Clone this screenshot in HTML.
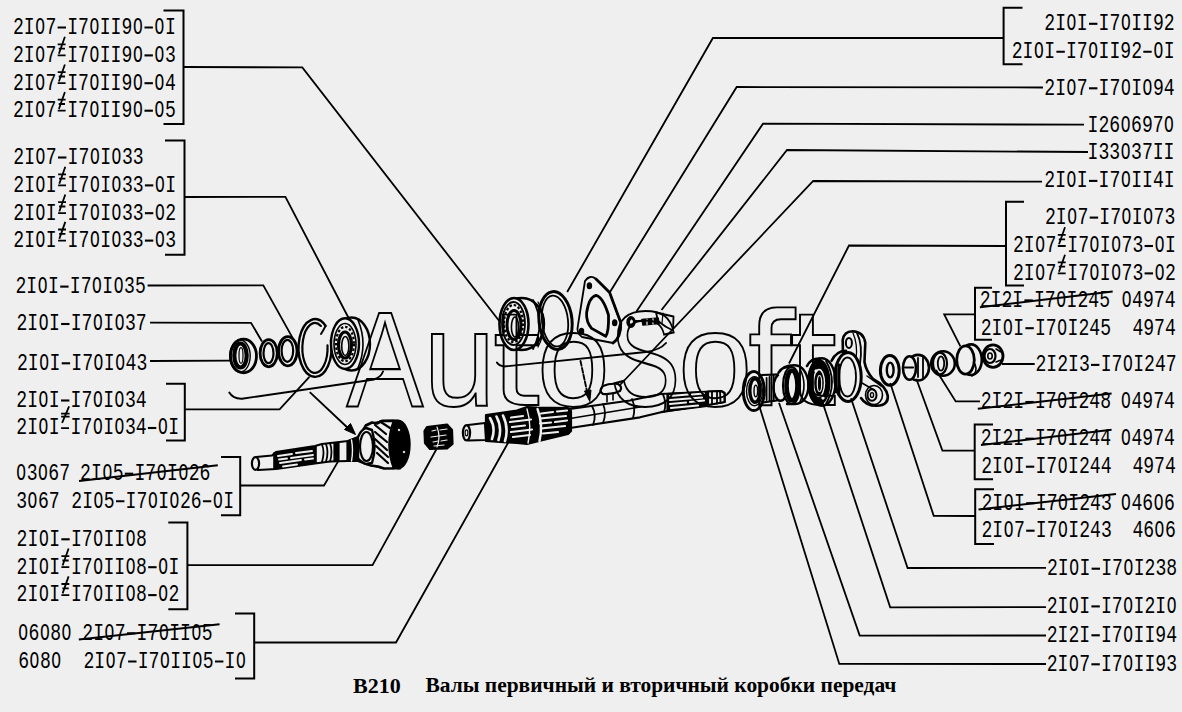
<!DOCTYPE html>
<html><head><meta charset="utf-8"><style>
html,body{margin:0;padding:0;background:#efefef;}
svg{display:block}
.t{white-space:pre;font-family:"Liberation Mono",monospace;font-size:18.10px;fill:#000;}
.l{fill:none;stroke:#000;stroke-width:1.8;}
.bk{fill:none;stroke:#000;stroke-width:2;}
.st{fill:none;stroke:#000;stroke-width:2;}
.m{fill:none;stroke:#000;stroke-width:1.8;}
.hy{fill:none;stroke:#000;stroke-width:2.1;}
.wm{font-family:"Liberation Sans",sans-serif;font-size:128px;fill:none;stroke:#000;stroke-width:1.9;vector-effect:non-scaling-stroke;}
.wmp{fill:none;stroke:#000;stroke-width:1.9;}
.ti{font-family:"Liberation Serif",serif;font-weight:bold;fill:#000;}
.p{fill:none;stroke:#000;stroke-width:2;}
.pt{fill:none;stroke:#000;stroke-width:1.3;}
.pf{fill:#000;stroke:none;}
</style></head><body>
<svg width="1182" height="712" viewBox="0 0 1182 712">
<ellipse cx="243.5" cy="356" rx="13" ry="16.8" fill="#efefef" stroke="#000" stroke-width="2.8" />
<ellipse cx="240" cy="356" rx="10.2" ry="16" fill="none" stroke="#000" stroke-width="1.4" />
<ellipse cx="240.5" cy="355.5" rx="6.2" ry="12" fill="none" stroke="#000" stroke-width="4.2" />
<ellipse cx="241" cy="355.5" rx="2.0" ry="7.8" fill="none" stroke="#000" stroke-width="1.2" />
<ellipse cx="268.7" cy="353.2" rx="8.6" ry="13.6" fill="none" stroke="#000" stroke-width="2.8" />
<ellipse cx="268.5" cy="353.2" rx="5.0" ry="10.0" fill="none" stroke="#000" stroke-width="2.2" />
<ellipse cx="287.8" cy="351.2" rx="9.3" ry="14.6" fill="none" stroke="#000" stroke-width="2.8" />
<ellipse cx="287.4" cy="350.8" rx="5.8" ry="11.0" fill="none" stroke="#000" stroke-width="2.2" />
<path d="M325.6 325.9 A16.5 28.8 0 1 0 330.9 340.1" fill="none" stroke="#000" stroke-width="2.4" stroke-linejoin="round" stroke-linecap="round" />
<path d="M320.9 325.9 A12.6 25.0 0 1 0 327.5 345.4" fill="none" stroke="#000" stroke-width="2.2" stroke-linejoin="round" stroke-linecap="round" />
<path d="M325.6 325.9 Q323 331 321 334" fill="none" stroke="#000" stroke-width="2" stroke-linejoin="round" stroke-linecap="round" />
<ellipse cx="351.5" cy="344" rx="18.5" ry="26.5" fill="#efefef" stroke="#000" stroke-width="2.4" />
<path d="M358 320 Q368 344 358 368" fill="none" stroke="#000" stroke-width="1.6" stroke-linejoin="round" stroke-linecap="round" />
<ellipse cx="345" cy="343.6" rx="14" ry="25.3" fill="#efefef" stroke="#000" stroke-width="2.4" />
<ellipse cx="345" cy="344" rx="11" ry="20.5" fill="none" stroke="#000" stroke-width="1.6" />
<ellipse cx="345" cy="344" rx="9" ry="17.2" fill="none" stroke="#000" stroke-width="2.2" stroke-dasharray="2.5 2"/>
<ellipse cx="345" cy="345" rx="6.5" ry="13" fill="none" stroke="#000" stroke-width="3.2" />
<ellipse cx="345.3" cy="346" rx="3.6" ry="9.5" fill="none" stroke="#000" stroke-width="1.6" />
<path d="M256.0 457.0 L272.0 455.5 L276.0 452.0 L315.0 446.0 L322.0 444.0 L348.0 441.0 L358.0 437.0 L366.0 425.0 L383.0 421.0 L397.0 420.5 L400.0 468.5 L383.0 468.0 L366.0 464.0 L358.0 461.0 L348.0 461.0 L330.0 461.5 L315.0 463.5 L276.0 469.0 L258.0 470.0 Z" fill="#efefef" stroke="#000" stroke-width="2.2" stroke-linejoin="round" />
<ellipse cx="255.5" cy="463.5" rx="3.6" ry="6.3" fill="#efefef" stroke="#000" stroke-width="2.2" />
<path d="M274.0 453.0 L316.0 446.5 L316.0 463.0 L274.0 469.0 Z" fill="#000" stroke="#000" stroke-width="1.6" stroke-linejoin="round" />
<path d="M278 456 L292 454 M296 453 L312 451 M279 459.5 L287 458.5 M291 458 L313 455 M280 463 L301 460 M305 459.5 L313 458.5 M283 466.5 L297 464.5" fill="none" stroke="#efefef" stroke-width="1.9" stroke-linejoin="round" stroke-linecap="round" />
<path d="M322 444.5 Q325 452 322 462 M326 444 Q329 452 326 461.5 M330 443 Q333 452 330 461.5" fill="none" stroke="#000" stroke-width="1.8" stroke-linejoin="round" stroke-linecap="round" />
<path d="M334.0 443.0 L339.0 442.5 L339.0 461.0 L334.0 461.5 Z" fill="#000" stroke="#000" stroke-width="1.2" stroke-linejoin="round" />
<path d="M347.0 441.0 L358.0 437.5 L358.0 461.0 L347.0 461.0 Z" fill="#000" stroke="#000" stroke-width="1.2" stroke-linejoin="round" />
<path d="M351.5 440 Q353.5 450 351.5 461" fill="none" stroke="#efefef" stroke-width="1.4" stroke-linejoin="round" stroke-linecap="round" />
<ellipse cx="398" cy="444.5" rx="11.5" ry="23.8" fill="#000" stroke="#000" stroke-width="2.4" />
<path d="M392 428 Q385 444 392 462" fill="none" stroke="#efefef" stroke-width="1.4" stroke-linejoin="round" stroke-linecap="round" />
<ellipse cx="399" cy="430" rx="0.8" ry="0.8" fill="#efefef" stroke="#efefef" stroke-width="1" />
<ellipse cx="404" cy="452" rx="0.8" ry="0.8" fill="#efefef" stroke="#efefef" stroke-width="1" />
<path d="M366 425.5 L372 422.5 L377 423.5 L382 420.8 L394 420.9 Q385 444 394 468.3 L384 468.5 L378 466.5 L371 465.5 L364 463" fill="#efefef" stroke="#000" stroke-width="2.6" stroke-linejoin="round" stroke-linecap="round" />
<path d="M375 425 L386 434 M375 432 L387 442 M375 439 L387 450 M376 446 L388 457 M377 453 L388 463 M380 421.5 L390 428" fill="none" stroke="#000" stroke-width="2.2" stroke-linejoin="round" stroke-linecap="round" />
<path d="M358 437 Q361 430 366 428 L372 430 Q377 447 372 463 L366 464 Q359 461 358 458 Z" fill="#efefef" stroke="#000" stroke-width="2.4" stroke-linejoin="round" stroke-linecap="round" />
<ellipse cx="366.5" cy="446.5" rx="6.5" ry="14.5" fill="#efefef" stroke="#000" stroke-width="2.2" />
<path d="M355.5 434.5 L344.5 429.5 L350.5 423.5 Z" fill="#000" stroke="#000" stroke-width="1" stroke-linejoin="round" />
<path d="M310.3 392.6 L350 430" fill="none" stroke="#000" stroke-width="1.9" stroke-linejoin="round" stroke-linecap="round" />
<path d="M427.0 427.0 L447.0 424.5 L452.0 430.0 L452.5 444.0 L447.0 448.5 L430.0 449.0 L425.0 443.0 L424.5 431.0 Z" fill="#000" stroke="#000" stroke-width="2.2" stroke-linejoin="round" />
<path d="M432 431 L436 430 M440 430 L447 429 M431 437 L446 435 M433 442 L438 441 M441 441 L447 440 M434 446 L444 445" fill="none" stroke="#efefef" stroke-width="1.2" stroke-linejoin="round" stroke-linecap="round" />
<path d="M437 427 Q441 437 437 447" fill="none" stroke="#efefef" stroke-width="1.2" stroke-linejoin="round" stroke-linecap="round" />
<path d="M570.0 409.0 L630.0 400.5 L661.0 394.0 L721.0 391.0 L724.5 393.0 L724.6 402.0 L661.0 412.2 L640.0 417.3 L570.0 428.0 Z" fill="#efefef" stroke="#000" stroke-width="2.2" stroke-linejoin="round" />
<path d="M592 406 Q597 415 593 425" fill="none" stroke="#000" stroke-width="1.8" stroke-linejoin="round" stroke-linecap="round" />
<path d="M603 404 Q607 413 603 423" fill="none" stroke="#000" stroke-width="1.8" stroke-linejoin="round" stroke-linecap="round" />
<path d="M632 399 Q636 408 633 418" fill="none" stroke="#000" stroke-width="1.8" stroke-linejoin="round" stroke-linecap="round" />
<path d="M663 394.5 Q667 403 664 412" fill="none" stroke="#000" stroke-width="1.8" stroke-linejoin="round" stroke-linecap="round" />
<path d="M570 418.5 L640 407" fill="none" stroke="#000" stroke-width="1.5" stroke-linejoin="round" stroke-linecap="round" />
<path d="M667.0 393.5 L707.0 391.5 L707.0 406.5 L667.0 411.5 Z" fill="#000" stroke="#000" stroke-width="1.2" stroke-linejoin="round" />
<path d="M670 396 L688 394.5 M692 394.5 L704 393.5 M670 400 L702 397.5 M670 404 L686 402.5 M690 402 L704 400.5 M671 408 L698 405.5" fill="none" stroke="#efefef" stroke-width="2.2" stroke-linejoin="round" stroke-linecap="round" />
<path d="M708.0 391.5 L721.0 391.0 L724.5 393.0 L724.6 402.0 L708.0 405.0 Z" fill="#efefef" stroke="#000" stroke-width="2.2" stroke-linejoin="round" />
<path d="M712 392 L712 404 M717 391.5 L717 403.5 M720 391.5 L720.5 402.5" fill="none" stroke="#000" stroke-width="1.8" stroke-linejoin="round" stroke-linecap="round" />
<path d="M486.0 415.0 L517.0 410.5 L527.0 407.0 L537.0 407.5 L568.0 408.0 L571.0 411.0 L571.0 431.0 L568.0 434.0 L537.0 441.5 L527.0 444.0 L517.0 443.0 L486.0 441.0 Z" fill="#000" stroke="#000" stroke-width="2.2" stroke-linejoin="round" />
<path d="M490 418 Q496 428 492 439 M496.5 416.5 Q502.5 428 498.5 440 M503 415.5 Q509 428 505 441" fill="none" stroke="#efefef" stroke-width="2.6" stroke-linejoin="round" stroke-linecap="round" />
<path d="M511 417.5 L523 416 M510 422 L531 419.5 M512 427 L525 425.5 M511 432 L532 429.5 M513 437 L530 435" fill="none" stroke="#efefef" stroke-width="2.2" stroke-linejoin="round" stroke-linecap="round" />
<path d="M541 413.5 L553 412 M557 411.5 L567 410.5 M540 418.5 L566 416 M540 423.5 L551 422.5 M555 422 L567 420.5 M541 428.5 L565 426 M543 433.5 L558 432" fill="none" stroke="#efefef" stroke-width="2.2" stroke-linejoin="round" stroke-linecap="round" />
<path d="M537.5 409 Q543.5 425 539.5 441" fill="none" stroke="#efefef" stroke-width="2.4" stroke-linejoin="round" stroke-linecap="round" />
<path d="M527 409 Q532 426 528 443" fill="none" stroke="#efefef" stroke-width="1.4" stroke-linejoin="round" stroke-linecap="round" />
<path d="M468.0 425.0 L485.0 423.0 L486.0 440.0 L468.0 440.5 Z" fill="#efefef" stroke="#000" stroke-width="2.2" stroke-linejoin="round" />
<ellipse cx="466.5" cy="432.8" rx="3.6" ry="7.6" fill="#efefef" stroke="#000" stroke-width="2.2" />
<ellipse cx="466.5" cy="432.8" rx="1.4" ry="3" fill="none" stroke="#000" stroke-width="1.2" />
<ellipse cx="522" cy="324" rx="22" ry="26" fill="#efefef" stroke="#000" stroke-width="2.4" />
<path d="M533 300 Q546 324 533 349" fill="none" stroke="#000" stroke-width="1.8" stroke-linejoin="round" stroke-linecap="round" />
<path d="M538 302 Q550 324 538 347" fill="none" stroke="#000" stroke-width="1.2" stroke-linejoin="round" stroke-linecap="round" />
<ellipse cx="514" cy="324" rx="14.5" ry="26" fill="#efefef" stroke="#000" stroke-width="2.6" />
<ellipse cx="513.5" cy="323.5" rx="11.5" ry="21.5" fill="none" stroke="#000" stroke-width="1.8" />
<ellipse cx="513.5" cy="323.5" rx="9.5" ry="18.5" fill="none" stroke="#000" stroke-width="2.2" stroke-dasharray="2.5 2"/>
<ellipse cx="514" cy="325" rx="7" ry="14.5" fill="none" stroke="#000" stroke-width="3" />
<ellipse cx="515" cy="327" rx="3.6" ry="10" fill="none" stroke="#000" stroke-width="1.6" />
<ellipse cx="555.5" cy="320.5" rx="16.5" ry="29" fill="none" stroke="#000" stroke-width="3" transform="rotate(-6 555.5 320.5)" />
<ellipse cx="555" cy="321" rx="13" ry="25.5" fill="none" stroke="#000" stroke-width="1.8" transform="rotate(-6 555 321)" />
<path d="M585 281 Q590 274 596 279 L609.6 292.5 L620.8 322.8 Q621 338 613 343 L582 337 Q576 333 578 325 Z" fill="none" stroke="#000" stroke-width="1.8" stroke-linejoin="round" stroke-linecap="round" />
<path d="M596 279 L609.6 292.5 L620.8 322.8 Q621 338 613 343" fill="none" stroke="#000" stroke-width="2.8" stroke-linejoin="round" stroke-linecap="round" />
<path d="M596 295.3 Q603 297 608.5 315 Q609 332 605.7 336.3 L591.6 328.4 Q586 322 586.6 312.7 Q589 297 596 295.3 Z" fill="none" stroke="#000" stroke-width="2.8" stroke-linejoin="round" stroke-linecap="round" />
<ellipse cx="589.4" cy="285.7" rx="2" ry="2.8" fill="#000" stroke="#000" stroke-width="1.5" />
<ellipse cx="614.7" cy="322.8" rx="2" ry="2.8" fill="#000" stroke="#000" stroke-width="1.5" />
<ellipse cx="581.5" cy="331.2" rx="2" ry="2.8" fill="#000" stroke="#000" stroke-width="1.5" />
<ellipse cx="631" cy="322" rx="3.6" ry="4.8" fill="#000" stroke="#000" stroke-width="2.2" />
<ellipse cx="631.5" cy="322" rx="1" ry="2" fill="#efefef" stroke="#efefef" stroke-width="1" />
<path d="M642.0 319.5 L658.0 318.0 L659.0 323.5 L643.0 325.0 Z" fill="#000" stroke="#000" stroke-width="1.6" stroke-linejoin="round" />
<path d="M647 319 L647 324.5 M653 318.5 L653 324" fill="none" stroke="#efefef" stroke-width="1.2" stroke-linejoin="round" stroke-linecap="round" />
<path d="M634.5 321 L642 321" fill="none" stroke="#000" stroke-width="1.8" stroke-linejoin="round" stroke-linecap="round" />
<path d="M656 312.5 L673.5 316.5 L673 330.5 Q665 327 658 321 Z" fill="none" stroke="#000" stroke-width="1.8" stroke-linejoin="round" stroke-linecap="round" />
<path d="M663 313 L662 323" fill="none" stroke="#000" stroke-width="1.2" stroke-linejoin="round" stroke-linecap="round" />
<path d="M603 386 Q610 383 618 384 Q623 387 620 391 Q612 395 603 394 Q598 391 603 386 Z" fill="none" stroke="#000" stroke-width="2.2" stroke-linejoin="round" stroke-linecap="round" />
<path d="M607 394 L607 402 M613 393 L613 400" fill="none" stroke="#000" stroke-width="1.6" stroke-linejoin="round" stroke-linecap="round" />
<path d="M229.3 392.6 Q233 399 242 398.7 L374 379.5 Q381 377 383 371.5" fill="none" stroke="#000" stroke-width="1.9" stroke-linejoin="round" stroke-linecap="round" />
<path d="M496.9 362.6 Q499 366 504 366.5 L646 352 Q660 350 666 343" fill="none" stroke="#000" stroke-width="1.9" stroke-linejoin="round" stroke-linecap="round" />
<path d="M580.5 361 L588 396" fill="none" stroke="#000" stroke-width="1.9" stroke-linejoin="round" stroke-linecap="round" stroke-dasharray="5 2"/>
<path d="M589.8 401.5 L584.5 391.0 L591.0 390.0 Z" fill="#000" stroke="#000" stroke-width="1" stroke-linejoin="round" />
<ellipse cx="753.8" cy="391" rx="10.5" ry="19.6" fill="#efefef" stroke="#000" stroke-width="3" />
<ellipse cx="754.5" cy="391.2" rx="8" ry="14.5" fill="none" stroke="#000" stroke-width="1.4" />
<ellipse cx="755" cy="390.5" rx="5.2" ry="11.8" fill="none" stroke="#000" stroke-width="3.4" />
<ellipse cx="755.8" cy="391" rx="1.8" ry="5.8" fill="none" stroke="#000" stroke-width="1.4" />
<path d="M762 375 L780 374.4 M763 402.5 L780 400" fill="none" stroke="#000" stroke-width="2.2" stroke-linejoin="round" stroke-linecap="round" />
<ellipse cx="780.5" cy="387.5" rx="7" ry="13.2" fill="#efefef" stroke="#000" stroke-width="2.4" />
<path d="M766.6 378 L766.6 400 M769.5 377 L769.5 401 M773.7 376 L773.7 401" fill="none" stroke="#000" stroke-width="1.8" stroke-linejoin="round" stroke-linecap="round" />
<path d="M778.4 372.8 Q783 365 795 365.2 Q806 366 808.7 383.7 Q808 403 795 404 L787 404" fill="#efefef" stroke="#000" stroke-width="2.4" stroke-linejoin="round" stroke-linecap="round" />
<ellipse cx="791.5" cy="385.5" rx="8.5" ry="18.5" fill="#efefef" stroke="#000" stroke-width="2.2" />
<ellipse cx="792" cy="385.5" rx="5.5" ry="15" fill="none" stroke="#000" stroke-width="4.6" />
<path d="M800 369 Q808 385 800 402" fill="none" stroke="#000" stroke-width="1.6" stroke-linejoin="round" stroke-linecap="round" />
<path d="M784 368 L790 366.5" fill="none" stroke="#000" stroke-width="2" stroke-linejoin="round" stroke-linecap="round" />
<ellipse cx="822" cy="382" rx="13.5" ry="23.8" fill="#efefef" stroke="#000" stroke-width="2.4" />
<path d="M826 361 Q838 382 826 404" fill="none" stroke="#000" stroke-width="1.8" stroke-linejoin="round" stroke-linecap="round" />
<ellipse cx="818.8" cy="382.2" rx="10.5" ry="22" fill="#000" stroke="#000" stroke-width="2.4" />
<ellipse cx="819" cy="383" rx="5.5" ry="13.5" fill="none" stroke="#efefef" stroke-width="1.4" />
<ellipse cx="819.5" cy="383.5" rx="2.2" ry="8" fill="none" stroke="#efefef" stroke-width="1.2" />
<path d="M807 366 Q811 358 820 358.5" fill="none" stroke="#000" stroke-width="2.6" stroke-linejoin="round" stroke-linecap="round" />
<ellipse cx="816" cy="371" rx="1.2" ry="1.2" fill="#efefef" stroke="#efefef" stroke-width="1" />
<ellipse cx="823" cy="398" rx="1.2" ry="1.2" fill="#efefef" stroke="#efefef" stroke-width="1" />
<path d="M842.9 352 L842.7 340 Q844 331.5 852.5 331.3 Q863.5 331.5 865.3 343 L864.5 362 Q866 371 873 379 Q886 386 887.8 396 Q888.5 405 877 405.8 Q866 406 861 398" fill="#efefef" stroke="#000" stroke-width="2.6" stroke-linejoin="round" stroke-linecap="round" />
<path d="M857 333 Q863 345 860 364" fill="none" stroke="#000" stroke-width="1.8" stroke-linejoin="round" stroke-linecap="round" />
<path d="M853 333 Q858 345 856 358" fill="none" stroke="#000" stroke-width="1.3" stroke-linejoin="round" stroke-linecap="round" />
<ellipse cx="848.9" cy="342.9" rx="3" ry="5" fill="none" stroke="#000" stroke-width="2" />
<ellipse cx="848" cy="377" rx="13.2" ry="24.5" fill="#efefef" stroke="#000" stroke-width="3" />
<ellipse cx="847.5" cy="377" rx="8.5" ry="19.5" fill="none" stroke="#000" stroke-width="1.8" />
<path d="M836 368 L836 392 M839 365 L839 395" fill="none" stroke="#000" stroke-width="2.8" stroke-linejoin="round" stroke-linecap="round" />
<path d="M831.6 360.8 Q836 351 846 350.7" fill="none" stroke="#000" stroke-width="2.6" stroke-linejoin="round" stroke-linecap="round" />
<path d="M867 376 L881 386 M862 383 L874 390" fill="none" stroke="#000" stroke-width="1.5" stroke-linejoin="round" stroke-linecap="round" />
<ellipse cx="874" cy="395" rx="8.5" ry="9.5" fill="none" stroke="#000" stroke-width="1.6" />
<ellipse cx="872" cy="395" rx="4.5" ry="5.8" fill="none" stroke="#000" stroke-width="2" />
<ellipse cx="872" cy="395" rx="1.6" ry="2.4" fill="none" stroke="#000" stroke-width="1.4" />
<ellipse cx="889.8" cy="370.4" rx="9.4" ry="14.8" fill="#efefef" stroke="#000" stroke-width="3" />
<ellipse cx="890.2" cy="370" rx="3.4" ry="7.4" fill="none" stroke="#000" stroke-width="2.4" />
<ellipse cx="918" cy="367.7" rx="11" ry="12.8" fill="#efefef" stroke="#000" stroke-width="2.6" />
<ellipse cx="909.5" cy="368" rx="6.5" ry="11.8" fill="#efefef" stroke="#000" stroke-width="2.6" />
<path d="M905 367.5 L913 367.5" fill="none" stroke="#000" stroke-width="2.2" stroke-linejoin="round" stroke-linecap="round" />
<path d="M918 358 L918 377 M923 357 L923 378" fill="none" stroke="#000" stroke-width="1.8" stroke-linejoin="round" stroke-linecap="round" />
<ellipse cx="943" cy="363.5" rx="11.8" ry="12.3" fill="#efefef" stroke="#000" stroke-width="2.6" />
<ellipse cx="940" cy="363.5" rx="7" ry="10.8" fill="none" stroke="#000" stroke-width="2.2" />
<ellipse cx="941" cy="363.5" rx="3.2" ry="7.2" fill="none" stroke="#000" stroke-width="1.8" />
<ellipse cx="971" cy="359.7" rx="10.8" ry="15.3" fill="#efefef" stroke="#000" stroke-width="2.6" />
<ellipse cx="965.5" cy="360" rx="8.8" ry="14.2" fill="#efefef" stroke="#000" stroke-width="2.8" />
<path d="M975 364 Q978 372 972 376" fill="none" stroke="#000" stroke-width="1.6" stroke-linejoin="round" stroke-linecap="round" />
<ellipse cx="993" cy="356.1" rx="10" ry="11.2" fill="#efefef" stroke="#000" stroke-width="2.8" />
<ellipse cx="990" cy="356" rx="5.5" ry="7" fill="none" stroke="#000" stroke-width="2.2" />
<ellipse cx="990" cy="356" rx="2.2" ry="3" fill="none" stroke="#000" stroke-width="1.6" />
<path d="M996 349 L1001 352 M996 362 L1001 360" fill="none" stroke="#000" stroke-width="1.6" stroke-linejoin="round" stroke-linecap="round" />
<path class="hy" d="M57.6 27.5 H66.0 M144.5 27.5 H152.9"/>
<text transform="translate(12.9,33.8) scale(1,1.3)" class="t">2I 7 I7 II9   I</text>
<text transform="translate(40.1,33.8) scale(0.9,1.3)" class="t" text-anchor="middle">O</text>
<text transform="translate(94.4,33.8) scale(0.9,1.3)" class="t" text-anchor="middle">O</text>
<text transform="translate(137.8,33.8) scale(0.9,1.3)" class="t" text-anchor="middle">O</text>
<text transform="translate(159.5,33.8) scale(0.9,1.3)" class="t" text-anchor="middle">O</text>
<path class="m" d="M64.9 36.7 L58.9 53.7 M57.7 44.3 H65.6 M58.7 48.7 H65.0 M57.7 55.4 H65.6"/>
<path class="hy" d="M144.5 55.4 H152.9"/>
<text transform="translate(12.9,61.7) scale(1,1.3)" class="t">2I 7 I7 II9   3</text>
<text transform="translate(40.1,61.7) scale(0.9,1.3)" class="t" text-anchor="middle">O</text>
<text transform="translate(94.4,61.7) scale(0.9,1.3)" class="t" text-anchor="middle">O</text>
<text transform="translate(137.8,61.7) scale(0.9,1.3)" class="t" text-anchor="middle">O</text>
<text transform="translate(159.5,61.7) scale(0.9,1.3)" class="t" text-anchor="middle">O</text>
<path class="m" d="M64.9 64.5 L58.9 81.5 M57.7 72.1 H65.6 M58.7 76.5 H65.0 M57.7 83.2 H65.6"/>
<path class="hy" d="M144.5 83.2 H152.9"/>
<text transform="translate(12.9,89.5) scale(1,1.3)" class="t">2I 7 I7 II9   4</text>
<text transform="translate(40.1,89.5) scale(0.9,1.3)" class="t" text-anchor="middle">O</text>
<text transform="translate(94.4,89.5) scale(0.9,1.3)" class="t" text-anchor="middle">O</text>
<text transform="translate(137.8,89.5) scale(0.9,1.3)" class="t" text-anchor="middle">O</text>
<text transform="translate(159.5,89.5) scale(0.9,1.3)" class="t" text-anchor="middle">O</text>
<path class="m" d="M64.9 92.0 L58.9 109.0 M57.7 99.6 H65.6 M58.7 104.0 H65.0 M57.7 110.7 H65.6"/>
<path class="hy" d="M144.5 110.7 H152.9"/>
<text transform="translate(12.9,117.0) scale(1,1.3)" class="t">2I 7 I7 II9   5</text>
<text transform="translate(40.1,117.0) scale(0.9,1.3)" class="t" text-anchor="middle">O</text>
<text transform="translate(94.4,117.0) scale(0.9,1.3)" class="t" text-anchor="middle">O</text>
<text transform="translate(137.8,117.0) scale(0.9,1.3)" class="t" text-anchor="middle">O</text>
<text transform="translate(159.5,117.0) scale(0.9,1.3)" class="t" text-anchor="middle">O</text>
<path class="bk" d="M163.5 10.6 L183.5 10.6 L183.5 124.0 L163.5 124.0"/>
<path class="l" d="M183.5 67.0 L302.3 67.4 L500.4 322.5"/>
<path class="hy" d="M58.0 157.5 H66.4"/>
<text transform="translate(13.3,163.8) scale(1,1.3)" class="t">2I 7 I7 I 33</text>
<text transform="translate(40.5,163.8) scale(0.9,1.3)" class="t" text-anchor="middle">O</text>
<text transform="translate(94.8,163.8) scale(0.9,1.3)" class="t" text-anchor="middle">O</text>
<text transform="translate(116.5,163.8) scale(0.9,1.3)" class="t" text-anchor="middle">O</text>
<path class="m" d="M65.3 166.7 L59.3 183.7 M58.1 174.3 H66.0 M59.1 178.7 H65.4 M58.1 185.4 H66.0"/>
<path class="hy" d="M144.9 185.4 H153.3"/>
<text transform="translate(13.3,191.7) scale(1,1.3)" class="t">2I I I7 I 33  I</text>
<text transform="translate(40.5,191.7) scale(0.9,1.3)" class="t" text-anchor="middle">O</text>
<text transform="translate(94.8,191.7) scale(0.9,1.3)" class="t" text-anchor="middle">O</text>
<text transform="translate(116.5,191.7) scale(0.9,1.3)" class="t" text-anchor="middle">O</text>
<text transform="translate(159.9,191.7) scale(0.9,1.3)" class="t" text-anchor="middle">O</text>
<path class="m" d="M65.3 194.5 L59.3 211.5 M58.1 202.1 H66.0 M59.1 206.5 H65.4 M58.1 213.2 H66.0"/>
<path class="hy" d="M144.9 213.2 H153.3"/>
<text transform="translate(13.3,219.5) scale(1,1.3)" class="t">2I I I7 I 33  2</text>
<text transform="translate(40.5,219.5) scale(0.9,1.3)" class="t" text-anchor="middle">O</text>
<text transform="translate(94.8,219.5) scale(0.9,1.3)" class="t" text-anchor="middle">O</text>
<text transform="translate(116.5,219.5) scale(0.9,1.3)" class="t" text-anchor="middle">O</text>
<text transform="translate(159.9,219.5) scale(0.9,1.3)" class="t" text-anchor="middle">O</text>
<path class="m" d="M65.3 221.9 L59.3 238.9 M58.1 229.5 H66.0 M59.1 233.9 H65.4 M58.1 240.6 H66.0"/>
<path class="hy" d="M144.9 240.6 H153.3"/>
<text transform="translate(13.3,246.9) scale(1,1.3)" class="t">2I I I7 I 33  3</text>
<text transform="translate(40.5,246.9) scale(0.9,1.3)" class="t" text-anchor="middle">O</text>
<text transform="translate(94.8,246.9) scale(0.9,1.3)" class="t" text-anchor="middle">O</text>
<text transform="translate(116.5,246.9) scale(0.9,1.3)" class="t" text-anchor="middle">O</text>
<text transform="translate(159.9,246.9) scale(0.9,1.3)" class="t" text-anchor="middle">O</text>
<path class="bk" d="M165.0 140.6 L184.5 140.6 L184.5 254.7 L165.0 254.7"/>
<path class="l" d="M184.5 197.0 L285.4 196.8 L348.6 318.0"/>
<path class="hy" d="M60.2 286.6 H68.6"/>
<text transform="translate(15.5,292.9) scale(1,1.3)" class="t">2I I I7 I 35</text>
<text transform="translate(42.7,292.9) scale(0.9,1.3)" class="t" text-anchor="middle">O</text>
<text transform="translate(97.0,292.9) scale(0.9,1.3)" class="t" text-anchor="middle">O</text>
<text transform="translate(118.7,292.9) scale(0.9,1.3)" class="t" text-anchor="middle">O</text>
<path class="l" d="M147.6 285.5 L263.3 285.4 L294.0 340.4"/>
<path class="hy" d="M61.1 324.0 H69.5"/>
<text transform="translate(16.4,330.3) scale(1,1.3)" class="t">2I I I7 I 37</text>
<text transform="translate(43.6,330.3) scale(0.9,1.3)" class="t" text-anchor="middle">O</text>
<text transform="translate(97.9,330.3) scale(0.9,1.3)" class="t" text-anchor="middle">O</text>
<text transform="translate(119.6,330.3) scale(0.9,1.3)" class="t" text-anchor="middle">O</text>
<path class="l" d="M150.0 322.7 L251.0 322.8 L262.0 341.5"/>
<path class="hy" d="M61.7 363.3 H70.1"/>
<text transform="translate(17.0,369.6) scale(1,1.3)" class="t">2I I I7 I 43</text>
<text transform="translate(44.2,369.6) scale(0.9,1.3)" class="t" text-anchor="middle">O</text>
<text transform="translate(98.5,369.6) scale(0.9,1.3)" class="t" text-anchor="middle">O</text>
<text transform="translate(120.2,369.6) scale(0.9,1.3)" class="t" text-anchor="middle">O</text>
<path class="l" d="M150.0 361.0 L230.2 360.6"/>
<path class="hy" d="M61.0 400.5 H69.4"/>
<text transform="translate(16.3,406.8) scale(1,1.3)" class="t">2I I I7 I 34</text>
<text transform="translate(43.5,406.8) scale(0.9,1.3)" class="t" text-anchor="middle">O</text>
<text transform="translate(97.8,406.8) scale(0.9,1.3)" class="t" text-anchor="middle">O</text>
<text transform="translate(119.5,406.8) scale(0.9,1.3)" class="t" text-anchor="middle">O</text>
<path class="m" d="M69.1 406.3 L62.1 422.8 M61.1 413.6 H69.6 M61.1 416.7 H69.6 M61.1 428.1 H69.0"/>
<path class="hy" d="M147.9 428.0 H156.3"/>
<text transform="translate(16.3,434.3) scale(1,1.3)" class="t">2I I I7 I 34  I</text>
<text transform="translate(43.5,434.3) scale(0.9,1.3)" class="t" text-anchor="middle">O</text>
<text transform="translate(97.8,434.3) scale(0.9,1.3)" class="t" text-anchor="middle">O</text>
<text transform="translate(119.5,434.3) scale(0.9,1.3)" class="t" text-anchor="middle">O</text>
<text transform="translate(162.9,434.3) scale(0.9,1.3)" class="t" text-anchor="middle">O</text>
<path class="bk" d="M166.0 383.7 L184.8 383.7 L184.8 440.5 L166.0 440.5"/>
<path class="l" d="M184.8 409.3 L279.6 409.3 L309.4 376.8"/>
<text transform="translate(15.8,480.0) scale(1,1.3)" class="t"> 3 67</text>
<text transform="translate(21.2,480.0) scale(0.9,1.3)" class="t" text-anchor="middle">O</text>
<text transform="translate(42.9,480.0) scale(0.9,1.3)" class="t" text-anchor="middle">O</text>
<path class="hy" d="M124.8 473.7 H133.2"/>
<text transform="translate(80.1,480.0) scale(1,1.3)" class="t">2I 5 I7 I 26</text>
<text transform="translate(107.3,480.0) scale(0.9,1.3)" class="t" text-anchor="middle">O</text>
<text transform="translate(161.6,480.0) scale(0.9,1.3)" class="t" text-anchor="middle">O</text>
<text transform="translate(183.3,480.0) scale(0.9,1.3)" class="t" text-anchor="middle">O</text>
<path class="st" d="M79.0 481.0 L217.8 465.3"/>
<text transform="translate(16.2,507.6) scale(1,1.3)" class="t">3 67</text>
<text transform="translate(32.4,507.6) scale(0.9,1.3)" class="t" text-anchor="middle">O</text>
<path class="hy" d="M116.0 501.3 H124.4 M202.9 501.3 H211.3"/>
<text transform="translate(71.3,507.6) scale(1,1.3)" class="t">2I 5 I7 I 26  I</text>
<text transform="translate(98.5,507.6) scale(0.9,1.3)" class="t" text-anchor="middle">O</text>
<text transform="translate(152.8,507.6) scale(0.9,1.3)" class="t" text-anchor="middle">O</text>
<text transform="translate(174.5,507.6) scale(0.9,1.3)" class="t" text-anchor="middle">O</text>
<text transform="translate(217.9,507.6) scale(0.9,1.3)" class="t" text-anchor="middle">O</text>
<path class="bk" d="M221.0 457.0 L240.2 457.0 L240.2 515.3 L221.0 515.3"/>
<path class="l" d="M240.2 485.5 L324.0 485.5 L338.0 461.6"/>
<path class="hy" d="M61.3 539.3 H69.7"/>
<text transform="translate(16.6,545.6) scale(1,1.3)" class="t">2I I I7 II 8</text>
<text transform="translate(43.8,545.6) scale(0.9,1.3)" class="t" text-anchor="middle">O</text>
<text transform="translate(98.1,545.6) scale(0.9,1.3)" class="t" text-anchor="middle">O</text>
<text transform="translate(130.7,545.6) scale(0.9,1.3)" class="t" text-anchor="middle">O</text>
<path class="m" d="M68.6 548.5 L62.6 565.5 M61.4 556.1 H69.3 M62.4 560.5 H68.7 M61.4 567.2 H69.3"/>
<path class="hy" d="M148.2 567.2 H156.6"/>
<text transform="translate(16.6,573.5) scale(1,1.3)" class="t">2I I I7 II 8  I</text>
<text transform="translate(43.8,573.5) scale(0.9,1.3)" class="t" text-anchor="middle">O</text>
<text transform="translate(98.1,573.5) scale(0.9,1.3)" class="t" text-anchor="middle">O</text>
<text transform="translate(130.7,573.5) scale(0.9,1.3)" class="t" text-anchor="middle">O</text>
<text transform="translate(163.2,573.5) scale(0.9,1.3)" class="t" text-anchor="middle">O</text>
<path class="m" d="M68.6 576.4 L62.6 593.4 M61.4 584.0 H69.3 M62.4 588.4 H68.7 M61.4 595.1 H69.3"/>
<path class="hy" d="M148.2 595.1 H156.6"/>
<text transform="translate(16.6,601.4) scale(1,1.3)" class="t">2I I I7 II 8  2</text>
<text transform="translate(43.8,601.4) scale(0.9,1.3)" class="t" text-anchor="middle">O</text>
<text transform="translate(98.1,601.4) scale(0.9,1.3)" class="t" text-anchor="middle">O</text>
<text transform="translate(130.7,601.4) scale(0.9,1.3)" class="t" text-anchor="middle">O</text>
<text transform="translate(163.2,601.4) scale(0.9,1.3)" class="t" text-anchor="middle">O</text>
<path class="bk" d="M168.3 522.6 L187.4 522.6 L187.4 609.3 L168.3 609.3"/>
<path class="l" d="M187.4 565.2 L372.5 565.2 L436.4 449.3"/>
<text transform="translate(17.7,639.6) scale(1,1.3)" class="t"> 6 8 </text>
<text transform="translate(23.1,639.6) scale(0.9,1.3)" class="t" text-anchor="middle">O</text>
<text transform="translate(44.8,639.6) scale(0.9,1.3)" class="t" text-anchor="middle">O</text>
<text transform="translate(66.5,639.6) scale(0.9,1.3)" class="t" text-anchor="middle">O</text>
<path class="hy" d="M127.0 633.3 H135.4"/>
<text transform="translate(82.3,639.6) scale(1,1.3)" class="t">2I 7 I7 II 5</text>
<text transform="translate(109.5,639.6) scale(0.9,1.3)" class="t" text-anchor="middle">O</text>
<text transform="translate(163.8,639.6) scale(0.9,1.3)" class="t" text-anchor="middle">O</text>
<text transform="translate(196.4,639.6) scale(0.9,1.3)" class="t" text-anchor="middle">O</text>
<path class="st" d="M78.8 639.6 L219.6 624.3"/>
<text transform="translate(18.2,667.8) scale(1,1.3)" class="t">6 8 </text>
<text transform="translate(34.4,667.8) scale(0.9,1.3)" class="t" text-anchor="middle">O</text>
<text transform="translate(56.2,667.8) scale(0.9,1.3)" class="t" text-anchor="middle">O</text>
<path class="hy" d="M128.1 661.5 H136.5 M215.0 661.5 H223.4"/>
<text transform="translate(83.4,667.8) scale(1,1.3)" class="t">2I 7 I7 II 5 I </text>
<text transform="translate(110.6,667.8) scale(0.9,1.3)" class="t" text-anchor="middle">O</text>
<text transform="translate(164.9,667.8) scale(0.9,1.3)" class="t" text-anchor="middle">O</text>
<text transform="translate(197.5,667.8) scale(0.9,1.3)" class="t" text-anchor="middle">O</text>
<text transform="translate(240.9,667.8) scale(0.9,1.3)" class="t" text-anchor="middle">O</text>
<path class="bk" d="M235.0 613.4 L254.2 613.4 L254.2 678.5 L235.0 678.5"/>
<path class="l" d="M254.2 642.5 L396.0 642.5 L508.4 442.3"/>
<path class="hy" d="M1089.0 23.8 H1097.4"/>
<text transform="translate(1044.3,30.1) scale(1,1.3)" class="t">2I I I7 II92</text>
<text transform="translate(1071.5,30.1) scale(0.9,1.3)" class="t" text-anchor="middle">O</text>
<text transform="translate(1125.8,30.1) scale(0.9,1.3)" class="t" text-anchor="middle">O</text>
<path class="hy" d="M1056.4 51.8 H1064.8 M1143.3 51.8 H1151.7"/>
<text transform="translate(1011.7,58.1) scale(1,1.3)" class="t">2I I I7 II92  I</text>
<text transform="translate(1038.9,58.1) scale(0.9,1.3)" class="t" text-anchor="middle">O</text>
<text transform="translate(1093.2,58.1) scale(0.9,1.3)" class="t" text-anchor="middle">O</text>
<text transform="translate(1158.3,58.1) scale(0.9,1.3)" class="t" text-anchor="middle">O</text>
<path class="bk" d="M1022.5 7.7 L1003.6 7.7 L1003.6 64.3 L1022.5 64.3"/>
<path class="l" d="M1003.6 38.0 L712.9 38.0 L567.2 292.0"/>
<path class="hy" d="M1089.0 88.3 H1097.4"/>
<text transform="translate(1044.3,94.6) scale(1,1.3)" class="t">2I 7 I7 I 94</text>
<text transform="translate(1071.5,94.6) scale(0.9,1.3)" class="t" text-anchor="middle">O</text>
<text transform="translate(1125.8,94.6) scale(0.9,1.3)" class="t" text-anchor="middle">O</text>
<text transform="translate(1147.5,94.6) scale(0.9,1.3)" class="t" text-anchor="middle">O</text>
<path class="l" d="M1043.0 87.5 L736.7 87.0 L610.0 292.0"/>
<text transform="translate(1087.6,131.5) scale(1,1.3)" class="t">I26 697 </text>
<text transform="translate(1125.6,131.5) scale(0.9,1.3)" class="t" text-anchor="middle">O</text>
<text transform="translate(1169.0,131.5) scale(0.9,1.3)" class="t" text-anchor="middle">O</text>
<path class="l" d="M1084.0 124.7 L763.0 123.7 L636.4 311.4"/>
<text transform="translate(1087.6,159.2) scale(1,1.3)" class="t">I33 37II</text>
<text transform="translate(1125.6,159.2) scale(0.9,1.3)" class="t" text-anchor="middle">O</text>
<path class="l" d="M1088.0 152.0 L787.0 150.0 L661.5 310.0"/>
<path class="hy" d="M1089.0 180.9 H1097.4"/>
<text transform="translate(1044.3,187.2) scale(1,1.3)" class="t">2I I I7 II4I</text>
<text transform="translate(1071.5,187.2) scale(0.9,1.3)" class="t" text-anchor="middle">O</text>
<text transform="translate(1125.8,187.2) scale(0.9,1.3)" class="t" text-anchor="middle">O</text>
<path class="l" d="M1042.0 181.7 L813.2 181.0 L620.0 385.0"/>
<path class="hy" d="M1089.7 217.6 H1098.1"/>
<text transform="translate(1045.0,223.9) scale(1,1.3)" class="t">2I 7 I7 I 73</text>
<text transform="translate(1072.2,223.9) scale(0.9,1.3)" class="t" text-anchor="middle">O</text>
<text transform="translate(1126.5,223.9) scale(0.9,1.3)" class="t" text-anchor="middle">O</text>
<text transform="translate(1148.2,223.9) scale(0.9,1.3)" class="t" text-anchor="middle">O</text>
<path class="m" d="M1065.0 227.3 L1059.0 244.3 M1057.8 234.9 H1065.7 M1058.8 239.3 H1065.1 M1057.8 246.0 H1065.7"/>
<path class="hy" d="M1144.6 246.0 H1153.0"/>
<text transform="translate(1013.0,252.3) scale(1,1.3)" class="t">2I 7 I7 I 73  I</text>
<text transform="translate(1040.2,252.3) scale(0.9,1.3)" class="t" text-anchor="middle">O</text>
<text transform="translate(1094.5,252.3) scale(0.9,1.3)" class="t" text-anchor="middle">O</text>
<text transform="translate(1116.2,252.3) scale(0.9,1.3)" class="t" text-anchor="middle">O</text>
<text transform="translate(1159.6,252.3) scale(0.9,1.3)" class="t" text-anchor="middle">O</text>
<path class="m" d="M1065.0 254.7 L1059.0 271.7 M1057.8 262.3 H1065.7 M1058.8 266.7 H1065.1 M1057.8 273.4 H1065.7"/>
<path class="hy" d="M1144.6 273.4 H1153.0"/>
<text transform="translate(1013.0,279.7) scale(1,1.3)" class="t">2I 7 I7 I 73  2</text>
<text transform="translate(1040.2,279.7) scale(0.9,1.3)" class="t" text-anchor="middle">O</text>
<text transform="translate(1094.5,279.7) scale(0.9,1.3)" class="t" text-anchor="middle">O</text>
<text transform="translate(1116.2,279.7) scale(0.9,1.3)" class="t" text-anchor="middle">O</text>
<text transform="translate(1159.6,279.7) scale(0.9,1.3)" class="t" text-anchor="middle">O</text>
<path class="bk" d="M1024.0 201.7 L1006.0 201.7 L1006.0 285.6 L1024.0 285.6"/>
<path class="l" d="M1006.0 246.0 L849.0 245.5 L789.0 363.5"/>
<path class="hy" d="M1024.4 300.4 H1032.8"/>
<text transform="translate(979.7,306.7) scale(1,1.3)" class="t">2I2I I7 I245</text>
<text transform="translate(1061.2,306.7) scale(0.9,1.3)" class="t" text-anchor="middle">O</text>
<text transform="translate(1121.2,306.7) scale(1,1.3)" class="t"> 4974</text>
<text transform="translate(1126.6,306.7) scale(0.9,1.3)" class="t" text-anchor="middle">O</text>
<path class="st" d="M979.9 307.3 L1112.7 291.5"/>
<path class="hy" d="M1025.4 328.2 H1033.8"/>
<text transform="translate(980.7,334.5) scale(1,1.3)" class="t">2I I I7 I245</text>
<text transform="translate(1007.9,334.5) scale(0.9,1.3)" class="t" text-anchor="middle">O</text>
<text transform="translate(1062.2,334.5) scale(0.9,1.3)" class="t" text-anchor="middle">O</text>
<text transform="translate(1132.4,334.5) scale(1,1.3)" class="t">4974</text>
<path class="bk" d="M992.0 287.8 L975.0 287.8 L975.0 339.8 L992.0 339.8"/>
<path class="l" d="M975.0 314.3 L944.2 314.3 L960.4 346.3"/>
<path class="hy" d="M1091.0 364.9 H1099.4"/>
<text transform="translate(1035.5,371.2) scale(1,1.3)" class="t">2I2I3 I7 I247</text>
<text transform="translate(1127.8,371.2) scale(0.9,1.3)" class="t" text-anchor="middle">O</text>
<path class="l" d="M1034.7 364.0 L1002.0 364.0"/>
<path class="hy" d="M1025.4 402.0 H1033.8"/>
<text transform="translate(980.7,408.3) scale(1,1.3)" class="t">2I2I I7 I248</text>
<text transform="translate(1062.2,408.3) scale(0.9,1.3)" class="t" text-anchor="middle">O</text>
<text transform="translate(1120.6,408.3) scale(1,1.3)" class="t"> 4974</text>
<text transform="translate(1126.0,408.3) scale(0.9,1.3)" class="t" text-anchor="middle">O</text>
<path class="st" d="M977.8 408.7 L1111.6 393.6"/>
<path class="l" d="M980.0 401.4 L955.7 401.4 L936.0 370.0"/>
<path class="hy" d="M1025.4 438.7 H1033.8"/>
<text transform="translate(980.7,445.0) scale(1,1.3)" class="t">2I2I I7 I244</text>
<text transform="translate(1062.2,445.0) scale(0.9,1.3)" class="t" text-anchor="middle">O</text>
<text transform="translate(1120.6,445.0) scale(1,1.3)" class="t"> 4974</text>
<text transform="translate(1126.0,445.0) scale(0.9,1.3)" class="t" text-anchor="middle">O</text>
<path class="st" d="M981.0 445.0 L1111.6 429.8"/>
<path class="hy" d="M1025.9 466.7 H1034.3"/>
<text transform="translate(981.2,473.0) scale(1,1.3)" class="t">2I I I7 I244</text>
<text transform="translate(1008.4,473.0) scale(0.9,1.3)" class="t" text-anchor="middle">O</text>
<text transform="translate(1062.7,473.0) scale(0.9,1.3)" class="t" text-anchor="middle">O</text>
<text transform="translate(1132.4,473.0) scale(1,1.3)" class="t">4974</text>
<path class="bk" d="M993.0 424.5 L974.7 424.5 L974.7 479.3 L993.0 479.3"/>
<path class="l" d="M974.7 450.6 L942.4 450.5 L916.3 378.7"/>
<path class="hy" d="M1026.2 503.2 H1034.6"/>
<text transform="translate(981.5,509.5) scale(1,1.3)" class="t">2I I I7 I243</text>
<text transform="translate(1008.7,509.5) scale(0.9,1.3)" class="t" text-anchor="middle">O</text>
<text transform="translate(1063.0,509.5) scale(0.9,1.3)" class="t" text-anchor="middle">O</text>
<text transform="translate(1120.6,509.5) scale(1,1.3)" class="t"> 46 6</text>
<text transform="translate(1126.0,509.5) scale(0.9,1.3)" class="t" text-anchor="middle">O</text>
<text transform="translate(1158.6,509.5) scale(0.9,1.3)" class="t" text-anchor="middle">O</text>
<path class="st" d="M978.5 509.5 L1116.0 494.0"/>
<path class="hy" d="M1026.2 530.7 H1034.6"/>
<text transform="translate(981.5,537.0) scale(1,1.3)" class="t">2I 7 I7 I243</text>
<text transform="translate(1008.7,537.0) scale(0.9,1.3)" class="t" text-anchor="middle">O</text>
<text transform="translate(1063.0,537.0) scale(0.9,1.3)" class="t" text-anchor="middle">O</text>
<text transform="translate(1132.4,537.0) scale(1,1.3)" class="t">46 6</text>
<text transform="translate(1159.5,537.0) scale(0.9,1.3)" class="t" text-anchor="middle">O</text>
<path class="bk" d="M994.0 489.3 L975.2 489.3 L975.2 544.0 L994.0 544.0"/>
<path class="l" d="M975.2 516.0 L933.7 515.8 L890.2 383.0"/>
<path class="hy" d="M1091.6 568.7 H1100.0"/>
<text transform="translate(1046.9,575.0) scale(1,1.3)" class="t">2I I I7 I238</text>
<text transform="translate(1074.1,575.0) scale(0.9,1.3)" class="t" text-anchor="middle">O</text>
<text transform="translate(1128.4,575.0) scale(0.9,1.3)" class="t" text-anchor="middle">O</text>
<path class="l" d="M1046.0 567.8 L907.6 568.0 L851.0 398.3"/>
<path class="hy" d="M1091.4 606.4 H1099.8"/>
<text transform="translate(1046.7,612.7) scale(1,1.3)" class="t">2I I I7 I2I </text>
<text transform="translate(1073.9,612.7) scale(0.9,1.3)" class="t" text-anchor="middle">O</text>
<text transform="translate(1128.2,612.7) scale(0.9,1.3)" class="t" text-anchor="middle">O</text>
<text transform="translate(1171.6,612.7) scale(0.9,1.3)" class="t" text-anchor="middle">O</text>
<path class="l" d="M1046.0 607.2 L890.2 607.3 L822.7 402.7"/>
<path class="hy" d="M1091.4 635.3 H1099.8"/>
<text transform="translate(1046.7,641.6) scale(1,1.3)" class="t">2I2I I7 II94</text>
<text transform="translate(1128.2,641.6) scale(0.9,1.3)" class="t" text-anchor="middle">O</text>
<path class="l" d="M1046.0 635.5 L859.7 635.6 L779.0 402.7"/>
<path class="hy" d="M1091.4 664.3 H1099.8"/>
<text transform="translate(1046.7,670.6) scale(1,1.3)" class="t">2I 7 I7 II93</text>
<text transform="translate(1073.9,670.6) scale(0.9,1.3)" class="t" text-anchor="middle">O</text>
<text transform="translate(1128.2,670.6) scale(0.9,1.3)" class="t" text-anchor="middle">O</text>
<path class="l" d="M1046.0 664.0 L839.3 663.9 L759.6 407.0"/>
<text class="wm" transform="translate(346.50,405.5) scale(0.9000,1.06)">A</text>
<text class="wm" transform="translate(423.40,405.5) scale(1.0127,1.06)">u</text>
<text class="wm" transform="translate(536.99,405.5) scale(1.0230,1.06)">o</text>
<text class="wm" transform="translate(609.52,405.5) scale(0.8301,1.06)">S</text>
<text class="wm" transform="translate(677.88,405.5) scale(1.0443,1.06)">o</text>
<path class="wmp" d="M503.6 314.6 H516.5 V335 H538 V345.2 H516.5 V388 Q516.5 395.7 524 395.7 H538.4 V405 H525 Q503.6 405 503.6 390 V345.2 H495.7 V335 H503.6 Z"/>
<path class="wmp" d="M800.0 314.6 H812.9 V335 H834.4 V345.2 H812.9 V388 Q812.9 395.7 820.4 395.7 H834.8 V405 H821.4 Q800.0 405 800.0 390 V345.2 H792.0999999999999 V335 H800.0 Z"/>
<path class="wmp" d="M759.2 405.3 V345.2 H750.3 V334.4 H759.2 V326 Q759.2 307.4 777 307.4 H795.6 V319.2 H781 Q771.5 319.2 771.5 328 V334.4 H791 V345.2 H771.5 V405.3 Z"/>
<text class="ti" x="353" y="693.4" font-size="22">В210</text>
<text class="ti" x="425.5" y="692" font-size="21.45">Валы первичный и вторичный коробки передач</text>
</svg>
</body></html>
